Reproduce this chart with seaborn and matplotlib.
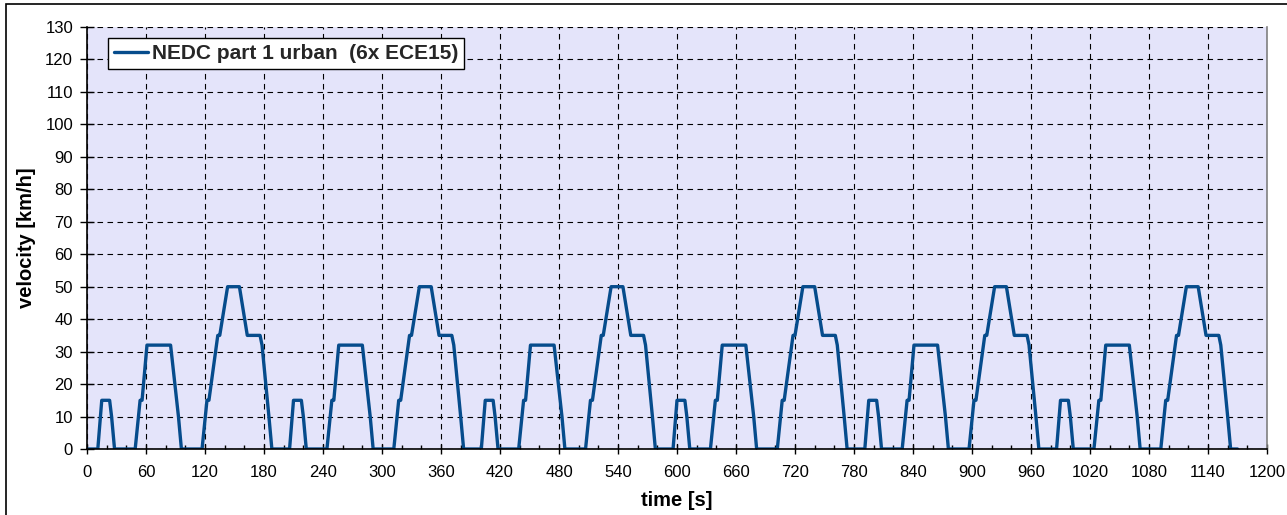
import numpy as np
import pandas as pd
import matplotlib
matplotlib.use("Agg")
import matplotlib.pyplot as plt
import seaborn as sns
from matplotlib.patches import Rectangle
from matplotlib.ticker import MultipleLocator

# One ECE15 elementary urban cycle (195 s): breakpoints
ece15_time = [0, 11, 15, 23, 25, 28, 49, 54, 56, 61, 85, 93, 96, 117, 122, 124,
              133, 135, 143, 155, 163, 176, 178, 185, 188, 195]
ece15_speed = [0, 0, 15, 15, 10, 0, 0, 15, 15, 32, 32, 10, 0, 0, 15, 15,
               35, 35, 50, 50, 35, 35, 32, 10, 0, 0]
cycle_length = 195
n_cycles = 6
series_name = "NEDC part 1 urban  (6x ECE15)"
x_label = "time [s]"
y_label = "velocity [km/h]"

t_all, v_all = [], []
for k in range(n_cycles):
    pts_t = ece15_time if k == 0 else ece15_time[1:]
    pts_v = ece15_speed if k == 0 else ece15_speed[1:]
    t_all += [k * cycle_length + t for t in pts_t]
    v_all += list(pts_v)
df = pd.DataFrame({"time": t_all, "velocity": v_all, "series": series_name})

sns.set_theme(style="white")
plt.rcParams["font.family"] = ["Liberation Sans", "DejaVu Sans"]

fig = plt.figure(figsize=(12.87, 5.15), dpi=100)
ax = fig.add_axes([87 / 1287, 1 - 449 / 515, (1267 - 87) / 1287, (449 - 27) / 515])
ax.set_facecolor("#E4E4FA")

sns.lineplot(data=df, x="time", y="velocity", hue="series", palette=["#064C8C"],
             linewidth=2.4, ax=ax, sort=False, estimator=None)

ax.set_xlim(0, 1200)
ax.set_ylim(0, 130)
ax.xaxis.set_major_locator(MultipleLocator(60))
ax.xaxis.set_minor_locator(MultipleLocator(20))
ax.yaxis.set_major_locator(MultipleLocator(10))
ax.grid(True, which="major", color="black", linestyle=(0, (5, 4)), linewidth=0.8)
ax.tick_params(axis="both", which="major", direction="inout", width=1,
               color="black", labelsize=12, colors="black")
ax.tick_params(axis="x", which="major", length=7, pad=8, bottom=True)
ax.tick_params(axis="y", which="major", length=10, pad=5, left=True)
ax.tick_params(axis="x", which="minor", direction="in", length=3, width=1, color="black", bottom=True)
for lab in ax.get_xticklabels() + ax.get_yticklabels():
    lab.set_color("black")

ax.spines["left"].set_color("black")
ax.spines["bottom"].set_color("black")
ax.spines["left"].set_linewidth(1.2)
ax.spines["bottom"].set_linewidth(1.2)
ax.spines["top"].set_visible(False)
ax.spines["right"].set_color("#808080")
ax.spines["right"].set_linewidth(1.2)

ax.set_xlabel(x_label, fontsize=14.5, fontweight="bold", color="black")
ax.set_ylabel(y_label, fontsize=14.5, fontweight="bold", color="black")
ax.xaxis.set_label_coords(0.5, -(501 - 449) / 422, transform=ax.transAxes)
ax.xaxis.label.set_va("center")
ax.yaxis.set_label_coords(-(87 - 27) / 1180, 0.5, transform=ax.transAxes)
ax.yaxis.label.set_va("center")

leg = ax.legend(loc="upper left", bbox_to_anchor=(21 / 1180, 1 - 11 / 422), frameon=True,
                fancybox=False, edgecolor="black", facecolor="white", framealpha=1,
                prop={"weight": "bold", "size": 15}, handlelength=1.6, handletextpad=0.2,
                borderpad=0.3, borderaxespad=0)
leg.get_frame().set_linewidth(1.0)

fig.patches.append(Rectangle((6 / 1287, -0.1), 1.2, 1 - 4 / 515 + 0.1, transform=fig.transFigure,
                             fill=False, edgecolor="black", linewidth=1.2))

fig.savefig("out.png", dpi=100)
